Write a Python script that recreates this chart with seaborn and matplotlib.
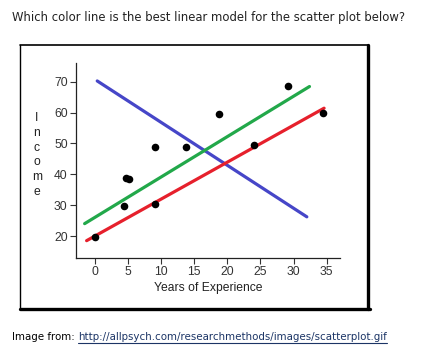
import matplotlib
matplotlib.use("Agg")
import matplotlib.pyplot as plt
import seaborn as sns
import pandas as pd
from matplotlib.lines import Line2D

# scatter data
years = [0, 4.4, 4.8, 5.2, 9.1, 9.1, 13.8, 18.7, 24.1, 29.1, 34.5]
income = [19.8, 29.9, 38.8, 38.5, 49.0, 30.4, 49.0, 59.5, 49.5, 68.5, 59.8]

# candidate lines (start and end points)
blue_x = [0.4, 32.0]
blue_y = [70.2, 26.3]
green_x = [-1.5, 32.4]
green_y = [24.1, 68.4]
red_x = [-1.2, 34.6]
red_y = [18.6, 61.4]

xticks = [0, 5, 10, 15, 20, 25, 30, 35]
yticks = [20, 30, 40, 50, 60, 70]

W, H = 435, 355
sns.set_style("ticks")
plt.rcParams['font.family'] = ['Liberation Sans', 'DejaVu Sans']

fig = plt.figure(figsize=(W / 100, H / 100), dpi=100)
fig.patch.set_facecolor("white")

def fx(px):
    return px / W

def fy(py):
    return 1 - py / H

ax = fig.add_axes([fx(76), fy(258), fx(340) - fx(76), fy(63) - fy(258)])

lines = pd.DataFrame({
    "x": blue_x + green_x + red_x,
    "y": blue_y + green_y + red_y,
    "line": ["blue"] * 2 + ["green"] * 2 + ["red"] * 2,
})
sns.lineplot(data=lines, x="x", y="y", hue="line",
             palette={"blue": "#4646c8", "green": "#22a84a", "red": "#e6202c"},
             linewidth=2.3, legend=False, sort=False, ax=ax)

pts = pd.DataFrame({"years": years, "income": income})
sns.scatterplot(data=pts, x="years", y="income", color="black", s=30,
                edgecolor="black", linewidth=0, zorder=5, ax=ax)

ax.set_xlim(-2.8, 37)
ax.set_ylim(13, 76)
ax.set_xticks(xticks)
ax.set_yticks(yticks)
ax.tick_params(direction="out", length=4, width=0.8, colors="#333333",
               labelsize=8.7, pad=2)
for s in ["top", "right"]:
    ax.spines[s].set_visible(False)
for s in ["left", "bottom"]:
    ax.spines[s].set_linewidth(0.9)
    ax.spines[s].set_color("#222222")

ax.set_xlabel("Years of Experience", fontsize=8.7, color="#222222", labelpad=3)
ax.set_ylabel("\n".join("Income"), rotation=0, fontsize=8.7, color="#222222",
              va="center", ha="center", linespacing=1.3)
ax.yaxis.set_label_coords(-0.148, 0.528)

# frame around the chart image
fig.add_artist(Line2D([fx(20.5), fx(20.5)], [fy(44.5), fy(308)], color="black", lw=1))
fig.add_artist(Line2D([fx(20.5), fx(368)], [fy(44.5), fy(44.5)], color="black", lw=1.2))
fig.add_artist(Line2D([fx(368.5), fx(368.5)], [fy(45), fy(309)], color="black", lw=2.4))
fig.add_artist(Line2D([fx(20.5), fx(370)], [fy(308.5), fy(308.5)], color="black", lw=2.4))

fig.text(fx(12), fy(17), "Which color line is the best linear model for the scatter plot below?",
         fontsize=8.4, color="#222222", va="center", ha="left", family="DejaVu Sans")
fig.text(fx(12), fy(337), "Image from:", fontsize=7.4, color="black",
         va="center", ha="left", family="DejaVu Sans")
url = fig.text(fx(78), fy(337), "http://allpsych.com/researchmethods/images/scatterplot.gif",
               fontsize=7.4, color="#1c3566", va="center", ha="left", family="DejaVu Sans")
fig.canvas.draw()
bb = url.get_window_extent()
fig.add_artist(Line2D([bb.x0 / W, bb.x1 / W], [(bb.y0 - 1) / H, (bb.y0 - 1) / H],
                      color="#1c3566", lw=0.8))

fig.savefig("out.png", dpi=100)
